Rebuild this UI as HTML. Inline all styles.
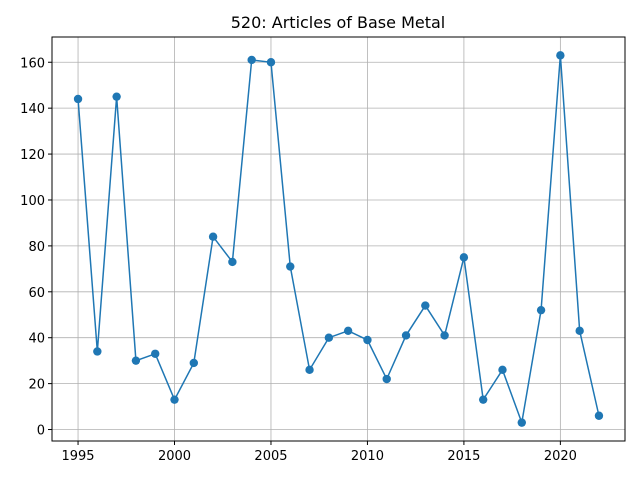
<!DOCTYPE html>
<html><head><meta charset="utf-8"><style>
body{margin:0;background:#fff;}
svg{font-family:"DejaVu Sans","Liberation Sans",sans-serif;}
</style></head><body>
<svg id="chart" width="640" height="480">
<rect width="640" height="480" fill="#fff"/>
<text x="338" y="28" text-anchor="middle" font-size="16">520: Articles of Base Metal</text>
<g id="grid"></g>
<g id="axes"></g>
<g id="series"></g>
<rect x="52" y="37" width="573" height="404" fill="none" stroke="#000" stroke-width="1"/>
</svg>
<script>
const years=[1995,1996,1997,1998,1999,2000,2001,2002,2003,2004,2005,2006,2007,2008,2009,2010,2011,2012,2013,2014,2015,2016,2017,2018,2019,2020,2021,2022];
const values=[144,34,145,30,33,13,29,84,73,161,160,71,26,40,43,39,22,41,54,41,75,13,26,3,52,163,43,6];
const xTicks=[1995,2000,2005,2010,2015,2020];
const yTicks=[0,20,40,60,80,100,120,140,160];
const L=52,R=625,T=37,B=441;
const xmin=1993.65,xmax=2023.35,ymin=-5,ymax=171;
const sx=v=>L+(v-xmin)/(xmax-xmin)*(R-L);
const sy=v=>B-(v-ymin)/(ymax-ymin)*(B-T);
const NS="http://www.w3.org/2000/svg";
const grid=document.getElementById('grid'),axes=document.getElementById('axes'),ser=document.getElementById('series');
function mk(t,a,p){const e=document.createElementNS(NS,t);for(const k in a)e.setAttribute(k,a[k]);p.appendChild(e);return e;}
xTicks.forEach(v=>{const x=sx(v);
const g=mk('line',{x1:x,x2:x,y1:T,y2:B,stroke:'#b0b0b0','stroke-width':0.8},grid);


mk('line',{x1:x,x2:x,y1:B,y2:B+4,stroke:'#000'},axes);
const t=mk('text',{x:x,y:B+19,'text-anchor':'middle','font-size':13},axes);t.textContent=v;

});
yTicks.forEach(v=>{const y=sy(v);
const g=mk('line',{x1:L,x2:R,y1:y,y2:y,stroke:'#b0b0b0','stroke-width':0.8},grid);


mk('line',{x1:L-4,x2:L,y1:y,y2:y,stroke:'#000'},axes);
const t=mk('text',{x:L-7,y:y+5,'text-anchor':'end','font-size':13},axes);t.textContent=v;

});
const pts=years.map((y,i)=>sx(y)+','+sy(values[i])).join(' ');
const pl=mk('polyline',{points:pts,fill:'none',stroke:'#1f77b4','stroke-width':1.5},ser);


years.forEach((y,i)=>{const c=mk('circle',{cx:sx(y),cy:sy(values[i]),r:4.2,fill:'#1f77b4'},ser);

});
</script>
</body></html>
